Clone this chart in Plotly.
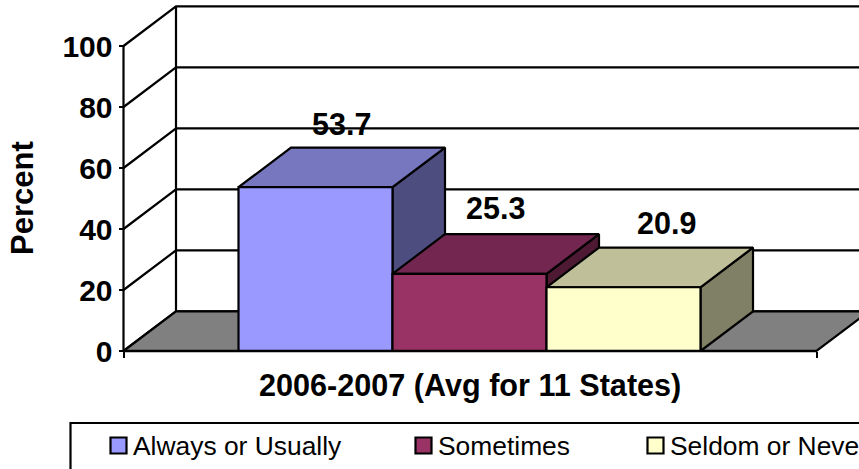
import plotly.graph_objects as go

# Chart values
series_names = ["Always or Usually", "Sometimes", "Seldom or Never"]
series_values = [53.7, 25.3, 20.9]
y_ticks = [0, 20, 40, 60, 80, 100]
category_label = "2006-2007 (Avg for 11 States)"
axis_label = "Percent"

# Fill colours per series: front, top and side faces
front_colors = ["#9999FF", "#993366", "#FFFFCC"]
top_colors = ["#7777BF", "#732650", "#BFBF99"]
side_colors = ["#4D4D80", "#4D1933", "#808066"]

W, H = 859, 469
PX_PER_BAR = 154.0
PX_PER_PCT = 3.05
ORIGIN_X, ORIGIN_Y = 238.5, 351.0

# Oblique depth, in axis units
DX = 52.5 / PX_PER_BAR
DY = 13.0
FLOOR_LEFT = (123.5 - ORIGIN_X) / PX_PER_BAR
FLOOR_RIGHT = (816.5 - ORIGIN_X) / PX_PER_BAR
X_MIN = -ORIGIN_X / PX_PER_BAR
X_MAX = (W - ORIGIN_X) / PX_PER_BAR
Y_MIN = (ORIGIN_Y - H) / PX_PER_PCT
Y_MAX = ORIGIN_Y / PX_PER_PCT

# Sideways shift (bar widths) and lift (percent) of each value label
LABEL_SHIFT = [0.0, 0.0, 17 / PX_PER_BAR]
LABEL_LIFT = [6.5, 7.5, 6.8]

LW = 2.2
FONT = "Liberation Sans, Arial, sans-serif"
fig = go.Figure()


def line(xs, ys, width=LW):
    fig.add_trace(go.Scatter(x=xs, y=ys, mode="lines", hoverinfo="skip",
                             line=dict(color="black", width=width)))


def poly(xs, ys, fill):
    fig.add_trace(go.Scatter(x=xs + xs[:1], y=ys + ys[:1], mode="lines",
                             fill="toself", fillcolor=fill, hoverinfo="skip",
                             line=dict(color="black", width=LW)))


# Side wall and back wall gridlines
for v in y_ticks:
    line([FLOOR_LEFT, FLOOR_LEFT + DX, X_MAX + 1], [v, v + DY, v + DY])
line([FLOOR_LEFT + DX, FLOOR_LEFT + DX], [DY, 100 + DY])

# Floor
poly([FLOOR_LEFT, FLOOR_RIGHT, FLOOR_RIGHT + DX, FLOOR_LEFT + DX],
     [0, 0, DY, DY], "#808080")

# Bars, drawn left to right so each covers the previous one's base
for i, v in enumerate(series_values):
    x0, x1 = float(i), float(i + 1)
    poly([x1, x1 + DX, x1 + DX, x1], [0, DY, v + DY, v], side_colors[i])
    poly([x0, x1, x1 + DX, x0 + DX], [v, v, v + DY, v + DY], top_colors[i])
    poly([x0, x1, x1, x0], [0, 0, v, v], front_colors[i])

# Front axis line on top of everything
line([FLOOR_LEFT, FLOOR_LEFT], [0, 100])
line([FLOOR_LEFT, FLOOR_RIGHT], [0, 0], 2.6)

# Value labels above the back edge of each bar
fig.add_trace(go.Scatter(
    x=[i + 0.5 + DX / 2 + LABEL_SHIFT[i] for i in range(len(series_values))],
    y=[v + DY + LABEL_LIFT[i] for i, v in enumerate(series_values)],
    mode="text",
    text=[f"{v:.1f}" for v in series_values],
    textposition="middle center",
    textfont=dict(family=FONT, size=30.5, color="black", weight="bold"),
    hoverinfo="skip",
))


def px(x):
    return x / W


def py(y):
    return 1 - y / H


annotations = [
    dict(text=category_label, x=px(469.5), y=py(385), xref="paper", yref="paper",
         showarrow=False, xanchor="center", yanchor="middle",
         font=dict(family=FONT, size=30.6, color="black", weight="bold")),
    dict(text=axis_label, x=px(22), y=py(198), xref="paper", yref="paper",
         showarrow=False, textangle=-90, xanchor="center", yanchor="middle",
         font=dict(family=FONT, size=31, color="black", weight="bold")),
]

# Legend frame, running off the lower right corner
shapes = [dict(type="rect", xref="paper", yref="paper", layer="above",
               x0=px(70.5), x1=px(W + 20), y0=py(423), y1=py(H + 20),
               line=dict(color="black", width=LW), fillcolor="white")]

legend_swatch_x = [110.5, 415.5, 647.5]
for name, color, sx in zip(series_names, front_colors, legend_swatch_x):
    shapes.append(dict(type="rect", xref="paper", yref="paper", layer="above",
                       x0=px(sx), x1=px(sx + 16), y0=py(437.5), y1=py(453.5),
                       line=dict(color="black", width=LW), fillcolor=color))
    annotations.append(dict(text=name, x=px(sx + 20), y=py(446), xref="paper", yref="paper",
                            showarrow=False, xanchor="left", yanchor="middle",
                            font=dict(family=FONT, size=26.4, color="black")))

fig.update_layout(
    width=W, height=H, autosize=False,
    margin=dict(l=0, r=0, t=0, b=0),
    paper_bgcolor="white", plot_bgcolor="white",
    showlegend=False,
    annotations=annotations, shapes=shapes,
    xaxis=dict(range=[X_MIN, X_MAX], showgrid=False, zeroline=False, showline=False,
               domain=[0, 1], anchor="free", position=(H - ORIGIN_Y) / H,
               tickmode="array", tickvals=[FLOOR_LEFT, FLOOR_RIGHT],
               ticks="outside", ticklen=6, tickwidth=LW, tickcolor="black",
               showticklabels=False, fixedrange=True),
    yaxis=dict(range=[Y_MIN, Y_MAX], showgrid=False, zeroline=False, showline=False,
               domain=[0, 1], anchor="free", position=123.5 / W,
               tickmode="array", tickvals=y_ticks,
               ticks="outside", ticklen=5, tickwidth=LW, tickcolor="black",
               tickfont=dict(family=FONT, size=30, color="black", weight="bold"),
               fixedrange=True),
)

fig.write_html("out.html", config=dict(displayModeBar=False))
